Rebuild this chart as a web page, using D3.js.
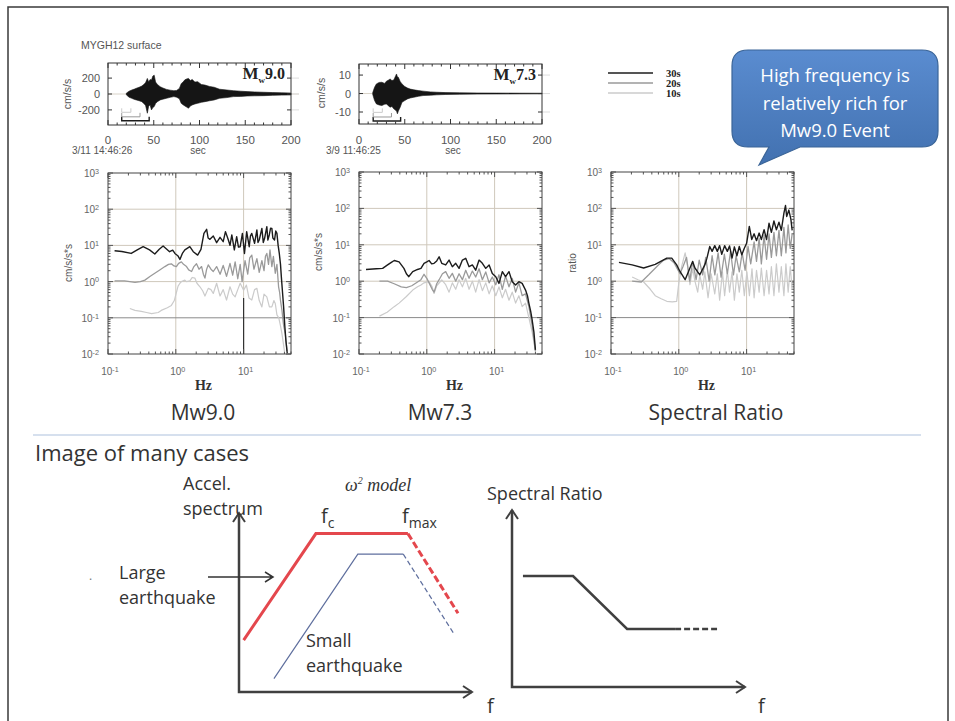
<!DOCTYPE html>
<html>
<head>
<meta charset="utf-8">
<script src="https://cdn.jsdelivr.net/npm/d3@7"></script>
<style>
  body { margin: 0; background: #fff; }
</style>
</head>
<body>
<script>
// ---------- data ----------

const windowNames = ["30s", "20s", "10s"];
const windowColors = ["#1c1c1c", "#9a9a9a", "#cbcbcb"];
const windowLengths = [30, 20, 10];

// Mw9.0 record (MYGH12 surface), envelope of the trace, cm/s/s
const mw90Time  = [20,23,26,29,31,34,37,39,41,43,44.5,46,47.5,49,50.5,52,54,57,60,64,68,72,75,78,80,82,84,86,88,90,92,95,98,102,106,111,116,122,130,137,145,152,160,170,180,190,200];
const mw90Upper = [10,35,50,62,72,85,100,120,140,196,150,183,175,225,237,150,120,92,75,58,48,42,45,70,130,150,178,190,196,170,183,150,155,120,112,95,85,60,50,42,35,30,26,22,18,15,12];
const mw90Lower = [-10,-40,-55,-68,-75,-85,-96,-120,-140,-242,-150,-138,-200,-170,-158,-120,-96,-75,-65,-54,-42,-33,-40,-60,-117,-135,-150,-165,-179,-150,-138,-125,-117,-105,-96,-85,-75,-54,-45,-33,-30,-25,-23,-21,-17,-14,-12];

// Mw7.3 record
const mw73Time  = [15,17,19,22,25,28,30,32,34,36,38,40,41,42,43,45,47,50,53,56,60,65,70,78,85,95,110,130,150,175,200];
const mw73Upper = [0.5,3.4,5.2,6.0,6.1,5.5,6.7,7.2,7.9,7.0,7.4,9.5,10.6,9.0,8.8,6.5,5.2,3.8,3.0,2.4,2.0,1.6,1.3,0.9,0.7,0.5,0.4,0.3,0.25,0.2,0.18];
const mw73Lower = [-0.5,-3.8,-5.6,-6.2,-6.5,-5.8,-5.6,-6.6,-7.4,-7.0,-8.3,-9.0,-9.5,-11,-9.5,-7.4,-4.7,-3.8,-2.9,-2.4,-2.0,-1.5,-1.1,-0.9,-0.7,-0.5,-0.4,-0.3,-0.25,-0.2,-0.18];

// analysis windows drawn under the traces (start s, level in trace units)
const mw90WindowStart = 15;
const mw90WindowLevel = [-337, -287, -230];
const mw73WindowStart = 15.5;
const mw73WindowLevel = [-14.9, -12.7, -10.2];

// Fourier spectra [Hz, cm/s/s*s]
const mw90Spec30 = [[0.125,7.1],[0.16,6.8],[0.22,6.0],[0.27,7.5],[0.33,9.2],[0.41,7.5],[0.49,5.8],[0.57,7.8],[0.65,9.6],[0.81,6.7],[0.9,7.4],[0.97,6.0],[1.07,5.2],[1.15,4.1],[1.25,6.0],[1.36,7.5],[1.61,9.2],[1.81,6.7],[2.1,5.4],[2.35,7.8],[2.6,21.5],[2.85,27.8],[3.0,16],[3.19,14.7],[3.57,18.2],[4.0,11.9],[4.49,16.7],[5.0,12.7],[5.4,24],[5.96,14.1],[6.3,10],[6.7,19.4],[7.3,7.5],[7.9,17.4],[8.4,9],[8.9,9.2],[9.6,21.5],[10.3,6.0],[11.1,24],[12.1,9.2],[12.6,18],[13.2,21.5],[14.5,11.4],[15.7,26.7],[16.3,12],[17,14.1],[18.6,29.6],[19.5,12],[20.4,15.7],[22,33],[22.8,14],[23.9,19.4],[25,30],[26.1,29.6],[27,16],[28.6,14.1],[29.8,25],[31,21.5],[32.3,10],[33.6,6],[35,3],[36,1.37],[37.5,0.5],[38.9,0.2],[40.5,0.06],[42,0.024],[44,0.0105]];
const mw90Spec20 = [[0.125,1.05],[0.175,1.05],[0.21,1.0],[0.25,0.95],[0.3,1.0],[0.35,1.1],[0.42,1.4],[0.49,1.7],[0.58,2.1],[0.69,2.6],[0.78,3.0],[0.86,3.1],[0.94,2.7],[1.02,2.6],[1.1,3.2],[1.21,3.5],[1.3,3.0],[1.44,2.6],[1.55,2.1],[1.71,1.9],[1.85,2.6],[2.02,3.1],[2.2,2.2],[2.4,2.6],[2.55,1.6],[2.69,1.25],[2.85,2.2],[3.01,2.9],[3.3,2.2],[3.57,1.9],[4.0,2.6],[4.5,1.6],[5.0,2.8],[5.6,1.4],[6.3,3.2],[6.9,1.5],[7.5,3.5],[8.2,1.2],[8.9,3.0],[9.5,1.0],[10,2.0],[10.5,3.8],[11.5,1.6],[12.3,4.5],[13.2,5.4],[14.2,2.2],[15.7,4.3],[17,1.8],[18.6,3.8],[20,2.0],[21,5],[22,6.0],[23.3,3.0],[24.5,7.5],[26.1,2.6],[27.5,5.0],[29.3,1.7],[31,3.0],[32.8,0.72],[34,0.5],[35,0.3],[36.8,0.16],[38,0.09],[39,0.06],[41.2,0.036],[43.7,0.012]];
const mw90Spec10 = [[0.21,0.18],[0.25,0.16],[0.31,0.15],[0.37,0.14],[0.44,0.13],[0.55,0.14],[0.61,0.16],[0.75,0.19],[0.86,0.22],[0.95,0.3],[1.02,0.5],[1.08,0.75],[1.15,0.9],[1.21,1.0],[1.36,1.1],[1.44,1.0],[1.61,1.05],[1.75,1.3],[1.91,1.25],[2.05,0.9],[2.27,0.72],[2.5,0.55],[2.69,0.4],[3.01,0.65],[3.3,0.6],[3.57,0.47],[4.0,0.9],[4.49,0.4],[5.0,0.6],[5.6,0.31],[6.3,0.72],[6.9,0.45],[7.5,0.38],[8.2,0.6],[8.9,0.9],[10,0.58],[11,0.8],[12,0.35],[13.2,0.31],[14.5,0.6],[15.7,0.65],[17,0.3],[18.6,0.2],[20,0.45],[22,0.38],[24,0.2],[26.1,0.2],[28,0.3],[29.3,0.25],[31,0.12],[33,0.1],[35,0.06],[36.8,0.036],[40,0.012]];

const mw73Spec30 = [[0.127,2.1],[0.18,2.2],[0.223,2.25],[0.264,2.8],[0.3,3.3],[0.331,3.7],[0.39,3.4],[0.46,2.25],[0.5,1.6],[0.54,1.33],[0.62,1.83],[0.73,2.1],[0.82,2.25],[0.91,3.1],[1.0,3.4],[1.08,3.7],[1.18,3.0],[1.28,3.1],[1.4,3.6],[1.52,4.7],[1.66,3.1],[1.9,2.8],[2.13,3.8],[2.38,2.5],[2.67,3.1],[2.99,2.25],[3.35,3.8],[3.75,4.25],[4.2,2.5],[4.7,2.8],[5.26,2.0],[5.9,3.8],[6.6,3.1],[7.4,2.25],[8.3,2.8],[9.25,1.64],[10.4,1.33],[11.6,0.87],[13,1.83],[14.5,1.33],[16.3,1.83],[18.2,0.97],[20.4,0.79],[22.8,0.97],[25.5,0.87],[28.6,0.57],[30.5,0.4],[32,0.25],[34,0.15],[35.8,0.086],[38,0.04],[40,0.013]];
const mw73Spec20 = [[0.2,1.0],[0.264,1.0],[0.33,0.85],[0.42,0.7],[0.5,0.67],[0.6,0.75],[0.73,0.95],[0.82,1.1],[0.91,1.55],[1.0,1.2],[1.08,0.9],[1.2,0.6],[1.28,0.5],[1.4,0.85],[1.52,1.1],[1.7,1.6],[1.9,1.83],[2.13,1.2],[2.38,1.64],[2.67,1.0],[2.99,1.6],[3.35,1.1],[3.75,2.0],[4.2,1.2],[4.7,1.9],[5.26,1.3],[5.9,2.2],[6.6,1.1],[7.4,1.8],[8.3,0.9],[9.25,1.3],[10.4,0.8],[11.6,1.5],[13,0.6],[14.5,1.4],[16.3,0.7],[18.2,1.2],[20.4,0.5],[22.8,0.9],[25.5,0.4],[28.6,0.45],[32,0.2],[35.8,0.06],[40,0.012]];
const mw73Spec10 = [[0.2,0.11],[0.26,0.14],[0.33,0.2],[0.39,0.25],[0.5,0.38],[0.62,0.57],[0.73,0.7],[0.82,0.79],[0.91,0.9],[1.08,0.97],[1.2,0.7],[1.28,0.46],[1.4,0.75],[1.66,1.08],[1.9,0.8],[2.13,0.5],[2.38,0.9],[2.67,0.6],[2.99,1.1],[3.35,0.7],[3.75,1.2],[4.2,0.6],[4.7,1.0],[5.26,0.5],[5.9,1.1],[6.6,0.55],[7.4,0.9],[8.3,0.45],[9.25,0.75],[10.4,0.4],[11.6,0.7],[13,0.35],[14.5,0.6],[16.3,0.3],[18.2,0.5],[20.4,0.25],[22.8,0.4],[25.5,0.2],[28.6,0.25],[32,0.1],[35.8,0.04],[40,0.012]];

// spectral ratio Mw9.0 / Mw7.3
const ratio30 = [[0.131,3.3],[0.205,2.8],[0.303,2.3],[0.449,2.9],[0.665,4.3],[0.787,4.3],[0.93,2.8],[1.04,1.85],[1.24,1.1],[1.46,2.3],[1.6,3.5],[1.73,2.3],[2.04,1.5],[2.42,2.8],[2.6,4.3],[2.86,9.0],[3.1,6.6],[3.39,9.5],[3.7,6.6],[4.0,9.5],[4.3,5.5],[4.74,9.5],[5.2,6.6],[5.6,9.3],[6.1,4.3],[6.6,8.8],[7.2,5.0],[7.8,9.0],[8.5,5.3],[9.25,8.0],[10.0,11],[10.96,32],[11.9,14],[12.9,20],[14,13],[15.3,21],[16.5,14],[18.1,26],[19.7,14],[21.4,39],[23.2,22],[25.3,45],[27.5,26],[30,42],[32.5,25],[35.5,74],[37.5,120],[39,60],[42,90],[45,50],[47,25]];
const ratio20 = [[0.205,1.0],[0.28,0.95],[0.36,1.5],[0.5,2.8],[0.6,3.8],[0.72,4.2],[0.85,3.2],[1.04,1.6],[1.15,2.5],[1.3,4.5],[1.45,1.0],[1.6,3.5],[1.8,1.1],[2.0,3.8],[2.25,1.5],[2.5,4.5],[2.8,1.0],[3.1,5.0],[3.4,1.5],[3.8,6.0],[4.2,1.3],[4.7,5.5],[5.2,1.6],[5.8,6.6],[6.4,1.5],[7.0,5.0],[7.8,1.8],[8.6,6.0],[9.5,2.0],[10.5,9.0],[11.5,3.0],[12.9,12],[14,3.5],[15.3,15],[16.5,3.0],[18.1,18],[19.7,4.0],[21.4,20],[23.2,4.5],[25.3,22],[27.5,5.0],[30,25],[32.5,5.0],[35.5,30],[38,6.0],[41,35],[44,8.0],[47,20]];
const ratio10 = [[0.205,1.3],[0.25,1.1],[0.303,0.95],[0.38,0.6],[0.449,0.4],[0.55,0.33],[0.665,0.28],[0.8,0.27],[0.93,0.28],[1.0,0.9],[1.1,2.5],[1.24,6.0],[1.35,2.5],[1.46,0.8],[1.6,2.2],[1.73,1.0],[1.9,0.5],[2.04,1.5],[2.25,0.6],[2.42,1.8],[2.7,0.35],[3.0,1.6],[3.39,0.45],[3.7,1.6],[4.0,0.3],[4.4,1.8],[4.74,0.4],[5.2,2.0],[5.6,0.5],[6.1,1.8],[6.6,0.3],[7.2,1.6],[7.8,0.5],[8.5,2.0],[9.25,0.4],[10.1,1.8],[11,0.4],[12,2.2],[12.9,0.35],[14,2.0],[15.3,0.5],[16.5,2.3],[18.1,0.4],[19.7,2.0],[21.4,0.45],[23.2,2.5],[25.3,0.4],[27.5,3.0],[30,0.5],[32.5,2.5],[35.5,0.4],[38,3.0],[41,0.5],[44,2.5],[47,0.6]];

// schematic omega-squared model (arbitrary units 0..10)
const largeSolid  = [[0.2,2.9],[3.3,8.85],[7.25,8.85]];
const largeDashed = [[7.25,8.85],[9.4,4.4]];
const smallSolid  = [[1.5,0.75],[5.1,7.7],[7.05,7.7]];
const smallDashed = [[7.05,7.7],[9.2,3.3]];
const ratioSolid  = [[0.47,6.27],[2.62,6.27],[4.94,3.28],[7.0,3.28]];
const ratioDashed = [[7.0,3.28],[8.8,3.28]];

// ---------- drawing ----------
const sans = "'Liberation Sans', Arial, sans-serif";
const serif = "'Liberation Serif', 'Times New Roman', serif";
const slide = "'Open Sans', sans-serif";

const svg = d3.select("body").append("svg")
  .attr("width", 955).attr("height", 721);
const defs = svg.append("defs");

// slide frame (open at the bottom, like the cropped slide)
svg.append("path").attr("d", "M8,721V7H948V721")
  .attr("fill", "none").attr("stroke", "#3a3a3a").attr("stroke-width", 1.5);

function zip(t, a, b) { return t.map((d, i) => ({t: d, hi: a[i], lo: b[i]})); }

// seismogram panels
function wavePanel(box, rows, yMax, yMin, yTicks, winStart, winLevel, mag) {
  const x = d3.scaleLinear().domain([0, 200]).range([box.x0, box.x1]);
  const y = d3.scaleLinear().domain([yMin, yMax]).range([box.y1, box.y0]);
  const g = svg.append("g");

  g.append("line").attr("x1", box.x0).attr("x2", box.x1 + 8)
    .attr("y1", y(0)).attr("y2", y(0)).attr("stroke", "#d9d3c8");
  yTicks.forEach(v => {
    g.append("line").attr("x1", box.x1).attr("x2", box.x1 + 8)
      .attr("y1", y(v)).attr("y2", y(v)).attr("stroke", "#ddd");
  });

  const area = d3.area().x(d => x(d.t)).y0(d => y(d.lo)).y1(d => y(d.hi));
  g.append("path").datum(rows).attr("d", area)
    .attr("fill", "#151515").attr("stroke", "#151515").attr("stroke-width", 0.6);

  // analysis windows
  windowLengths.forEach((len, i) => {
    const xa = x(winStart), xb = x(winStart + len), yy = y(winLevel[i]);
    g.append("path")
      .attr("d", `M${xa},${yy - 4}V${yy}H${xb}V${yy - 4}`)
      .attr("fill", "none").attr("stroke", windowColors[i]).attr("stroke-width", i === 0 ? 1.4 : 1);
  });

  // ticks
  d3.range(0, 201, 10).forEach(t => {
    const len = t % 50 === 0 ? 5 : 2.5;
    g.append("line").attr("x1", x(t)).attr("x2", x(t)).attr("y1", box.y0).attr("y2", box.y0 + len).attr("stroke", "#333");
    g.append("line").attr("x1", x(t)).attr("x2", x(t)).attr("y1", box.y1).attr("y2", box.y1 - len).attr("stroke", "#333");
  });
  yTicks.forEach(v => {
    g.append("line").attr("x1", box.x0).attr("x2", box.x0 + 4).attr("y1", y(v)).attr("y2", y(v)).attr("stroke", "#333");
    g.append("line").attr("x1", box.x1).attr("x2", box.x1 - 4).attr("y1", y(v)).attr("y2", y(v)).attr("stroke", "#333");
  });

  g.append("rect").attr("x", box.x0).attr("y", box.y0)
    .attr("width", box.x1 - box.x0).attr("height", box.y1 - box.y0)
    .attr("fill", "none").attr("stroke", "#333").attr("stroke-width", 1);

  g.selectAll(".yl").data(yTicks).join("text")
    .attr("x", box.x0 - 8).attr("y", d => y(d) + 4)
    .attr("text-anchor", "end").attr("font-family", sans).attr("font-size", 11).attr("fill", "#555")
    .text(d => d);
  g.selectAll(".xl").data([0, 50, 100, 150, 200]).join("text")
    .attr("x", d => x(d)).attr("y", 144)
    .attr("text-anchor", "middle").attr("font-family", sans).attr("font-size", 11.5).attr("fill", "#555")
    .text(d => d);

  const m = g.append("text").attr("x", box.x1 - 6).attr("y", box.y0 + 16)
    .attr("text-anchor", "end").attr("font-family", serif).attr("font-weight", "bold")
    .attr("font-size", 16).attr("fill", "#222");
  m.append("tspan").attr("font-size", 17).text("M");
  m.append("tspan").attr("dy", 4).attr("font-size", 9).text("w");
  m.append("tspan").attr("dy", -4).text(mag);
  return g;
}

wavePanel({x0: 108, x1: 291, y0: 63, y1: 125}, zip(mw90Time, mw90Upper, mw90Lower),
  390, -390, [200, 0, -200], mw90WindowStart, mw90WindowLevel, "9.0");
wavePanel({x0: 359, x1: 542, y0: 64, y1: 124}, zip(mw73Time, mw73Upper, mw73Lower),
  16, -16.5, [10, 0, -10], mw73WindowStart, mw73WindowLevel, "7.3");

svg.append("text").attr("x", 81).attr("y", 49).attr("font-family", sans).attr("font-size", 10.5)
  .attr("fill", "#555").text("MYGH12 surface");
[[67, 94], [321, 93]].forEach(p => {
  svg.append("text").attr("transform", `translate(${p[0]},${p[1]}) rotate(-90)`)
    .attr("text-anchor", "middle").attr("dy", "0.35em").attr("font-family", sans)
    .attr("font-size", 10.5).attr("fill", "#555").text("cm/s/s");
});
svg.append("text").attr("x", 72).attr("y", 154).attr("font-family", sans).attr("font-size", 10)
  .attr("fill", "#555").text("3/11 14:46:26");
svg.append("text").attr("x", 198).attr("y", 154).attr("text-anchor", "middle").attr("font-family", sans)
  .attr("font-size", 10).attr("fill", "#555").text("sec");
svg.append("text").attr("x", 326).attr("y", 154).attr("font-family", sans).attr("font-size", 10)
  .attr("fill", "#555").text("3/9 11:46:25");
svg.append("text").attr("x", 453).attr("y", 154).attr("text-anchor", "middle").attr("font-family", sans)
  .attr("font-size", 10).attr("fill", "#555").text("sec");

// legend
windowNames.forEach((name, i) => {
  const yy = 73 + i * 10;
  svg.append("line").attr("x1", 608).attr("x2", 653).attr("y1", yy).attr("y2", yy)
    .attr("stroke", windowColors[i]).attr("stroke-width", 1.3);
  svg.append("text").attr("x", 666).attr("y", yy + 3.5).attr("font-family", serif)
    .attr("font-weight", "bold").attr("font-size", 10.5).attr("fill", "#222").text(name);
});

// spectra panels
function powLabel(sel, e) {
  sel.append("tspan").text("10");
  sel.append("tspan").attr("dy", "-0.45em").attr("font-size", "0.72em").text(e);
}

function specPanel(box, curves, yLabel, yLabelPos, marker) {
  const x = d3.scaleLog().domain([0.1, 50]).range([box.x0, box.x1]);
  const y = d3.scaleLog().domain([0.01, 1000]).range([box.y1, box.y0]);
  const g = svg.append("g");
  const isMajor = v => Math.abs(Math.log10(v) - Math.round(Math.log10(v))) < 1e-6;

  g.selectAll(".gx").data([1, 10]).join("line")
    .attr("x1", d => x(d)).attr("x2", d => x(d)).attr("y1", box.y0).attr("y2", box.y1)
    .attr("stroke", "#cfc8bb");
  g.selectAll(".gy").data([100, 10, 1, 0.1]).join("line")
    .attr("x1", box.x0).attr("x2", box.x1).attr("y1", d => y(d)).attr("y2", d => y(d))
    .attr("stroke", d => d === 0.1 ? "#8a8a8a" : "#cfc8bb");

  if (marker) {
    g.append("line").attr("x1", x(marker.f)).attr("x2", x(marker.f))
      .attr("y1", y(marker.top)).attr("y2", box.y1).attr("stroke", "#333").attr("stroke-width", 1.2);
  }

  x.ticks().forEach(v => {
    const len = isMajor(v) ? 5 : 2.5;
    g.append("line").attr("x1", x(v)).attr("x2", x(v)).attr("y1", box.y1).attr("y2", box.y1 - len).attr("stroke", "#555");
    g.append("line").attr("x1", x(v)).attr("x2", x(v)).attr("y1", box.y0).attr("y2", box.y0 + len).attr("stroke", "#555");
  });
  y.ticks().forEach(v => {
    const len = isMajor(v) ? 5 : 2.5;
    g.append("line").attr("x1", box.x0).attr("x2", box.x0 + len).attr("y1", y(v)).attr("y2", y(v)).attr("stroke", "#555");
    g.append("line").attr("x1", box.x1).attr("x2", box.x1 - len).attr("y1", y(v)).attr("y2", y(v)).attr("stroke", "#555");
  });

  const id = "clip" + box.x0;
  defs.append("clipPath").attr("id", id).append("rect")
    .attr("x", box.x0).attr("y", box.y0).attr("width", box.x1 - box.x0).attr("height", box.y1 - box.y0);

  const line = d3.line().x(d => x(d[0])).y(d => y(d[1]));
  g.append("g").attr("clip-path", `url(#${id})`)
    .selectAll("path").data(curves).join("path")
    .attr("d", d => line(d.values))
    .attr("fill", "none").attr("stroke", d => d.color)
    .attr("stroke-width", d => d.width).attr("stroke-linejoin", "round");

  g.append("rect").attr("x", box.x0).attr("y", box.y0)
    .attr("width", box.x1 - box.x0).attr("height", box.y1 - box.y0)
    .attr("fill", "none").attr("stroke", "#444").attr("stroke-width", 1);

  [-2, -1, 0, 1, 2, 3].forEach(e => {
    const t = g.append("text").attr("x", box.x0 - 9).attr("y", y(Math.pow(10, e)) + 4)
      .attr("text-anchor", "end").attr("font-family", sans).attr("font-size", 10).attr("fill", "#666");
    powLabel(t, e);
  });
  [-1, 0, 1].forEach(e => {
    const t = g.append("text").attr("x", x(Math.pow(10, e)) + 2).attr("y", box.y1 + 21)
      .attr("text-anchor", "middle").attr("font-family", sans).attr("font-size", 10).attr("fill", "#666");
    powLabel(t, e);
  });
  g.append("text").attr("x", (box.x0 + box.x1) / 2 + 4).attr("y", 390)
    .attr("text-anchor", "middle").attr("font-family", serif).attr("font-weight", "bold")
    .attr("font-size", 14).attr("fill", "#333").text("Hz");
  g.append("text").attr("transform", `translate(${yLabelPos[0]},${yLabelPos[1]}) rotate(-90)`)
    .attr("text-anchor", "middle").attr("dy", "0.35em").attr("font-family", sans)
    .attr("font-size", 10).attr("fill", "#555").text(yLabel);
}

function curveSet(s30, s20, s10) {
  return [
    {values: s10, color: windowColors[2], width: 1.2},
    {values: s20, color: windowColors[1], width: 1.3},
    {values: s30, color: windowColors[0], width: 1.4}
  ];
}

specPanel({x0: 108, x1: 291, y0: 173, y1: 354}, curveSet(mw90Spec30, mw90Spec20, mw90Spec10),
  "cm/s/s*s", [68, 263], {f: 10, top: 0.35});
specPanel({x0: 359, x1: 542, y0: 172, y1: 354}, curveSet(mw73Spec30, mw73Spec20, mw73Spec10),
  "cm/s/s*s", [318, 252]);
specPanel({x0: 611, x1: 794, y0: 172, y1: 354}, curveSet(ratio30, ratio20, ratio10),
  "ratio", [572, 263]);

// panel captions
[["Mw9.0", 203], ["Mw7.3", 440], ["Spectral Ratio", 716]].forEach(c => {
  svg.append("text").attr("x", c[1]).attr("y", 420).attr("text-anchor", "middle")
    .attr("font-family", slide).attr("font-size", 21).attr("fill", "#333").text(c[0]);
});

// callout
const grad = defs.append("linearGradient").attr("id", "bubble").attr("x1", 0).attr("y1", 0).attr("x2", 0).attr("y2", 1);
grad.append("stop").attr("offset", "0%").attr("stop-color", "#5a8cd0");
grad.append("stop").attr("offset", "100%").attr("stop-color", "#4271b0");
svg.append("path")
  .attr("d", "M748,50H922Q938,50 938,66V131Q938,147 922,147H800L759,165L769,147H748Q732,147 732,131V66Q732,50 748,50Z")
  .attr("fill", "url(#bubble)").attr("stroke", "#3b6598").attr("stroke-width", 1.2);
["High frequency is", "relatively rich for", "Mw9.0 Event"].forEach((s, i) => {
  svg.append("text").attr("x", 835).attr("y", 82 + i * 27.5).attr("text-anchor", "middle")
    .attr("font-family", slide).attr("font-size", 18.5).attr("fill", "#fff").text(s);
});

// separator and lower title
svg.append("line").attr("x1", 33).attr("x2", 921).attr("y1", 435).attr("y2", 435)
  .attr("stroke", "#aec2de").attr("stroke-width", 1.2);
svg.append("text").attr("x", 35).attr("y", 461).attr("font-family", slide).attr("font-size", 22)
  .attr("fill", "#333").text("Image of many cases");

// schematic diagrams
function arrowAxes(sx, sy) {
  const ox = sx(0), oy = sy(0), tx = sx(10), ty = sy(10);
  const g = svg.append("g").attr("fill", "none").attr("stroke", "#404040").attr("stroke-width", 2.5)
    .attr("stroke-linejoin", "miter");
  g.append("path").attr("d", `M${ox},${ty}V${oy}H${tx}`);
  g.append("path").attr("d", `M${ox - 6},${ty + 9}L${ox},${ty}L${ox + 6},${ty + 9}`).attr("stroke-width", 2);
  g.append("path").attr("d", `M${tx - 9},${oy - 6}L${tx},${oy}L${tx - 9},${oy + 6}`).attr("stroke-width", 2);
}

const ax = d3.scaleLinear().domain([0, 10]).range([239, 472]);
const ay = d3.scaleLinear().domain([0, 10]).range([692, 513]);
const aLine = d3.line().x(d => ax(d[0])).y(d => ay(d[1]));
arrowAxes(ax, ay);
svg.append("path").attr("d", aLine(largeSolid)).attr("fill", "none").attr("stroke", "#e4474d").attr("stroke-width", 3);
svg.append("path").attr("d", aLine(largeDashed)).attr("fill", "none").attr("stroke", "#e4474d")
  .attr("stroke-width", 3).attr("stroke-dasharray", "7,3");
svg.append("path").attr("d", aLine(smallSolid)).attr("fill", "none").attr("stroke", "#5f6f9e").attr("stroke-width", 1.2);
svg.append("path").attr("d", aLine(smallDashed)).attr("fill", "none").attr("stroke", "#5f6f9e")
  .attr("stroke-width", 1.2).attr("stroke-dasharray", "5,3");

const rx = d3.scaleLinear().domain([0, 10]).range([512, 745]);
const ry = d3.scaleLinear().domain([0, 10]).range([687, 510]);
const rLine = d3.line().x(d => rx(d[0])).y(d => ry(d[1]));
arrowAxes(rx, ry);
svg.append("path").attr("d", rLine(ratioSolid)).attr("fill", "none").attr("stroke", "#404040").attr("stroke-width", 2.5);
svg.append("path").attr("d", rLine(ratioDashed)).attr("fill", "none").attr("stroke", "#404040")
  .attr("stroke-width", 2.5).attr("stroke-dasharray", "6,3");

// pointer to the large-event curve
svg.append("path").attr("d", "M208,577H273M265,572L273,577L265,582")
  .attr("fill", "none").attr("stroke", "#333").attr("stroke-width", 1.5);

function label(x, y, s, size) {
  return svg.append("text").attr("x", x).attr("y", y).attr("font-family", slide)
    .attr("font-size", size || 18).attr("fill", "#333").text(s);
}
label(183, 490, "Accel.");
label(183, 515, "spectrum");
label(119, 579, "Large");
label(119, 604, "earthquake");
label(306, 647, "Small");
label(306, 672, "earthquake");
label(487, 500, "Spectral Ratio");
label(487, 713, "f", 20);
label(758, 713, "f", 20);
svg.append("text").attr("x", 89).attr("y", 580).attr("font-family", slide).attr("font-size", 12)
  .attr("fill", "#777").text(".");

const fc = label(321, 523, "f", 20);
fc.append("tspan").attr("dy", 5).attr("font-size", 14).text("c");
const fm = label(402, 523, "f", 20);
fm.append("tspan").attr("dy", 5).attr("font-size", 14).text("max");

const om = svg.append("text").attr("x", 345).attr("y", 491).attr("font-family", serif)
  .attr("font-style", "italic").attr("font-size", 18).attr("fill", "#333");
om.append("tspan").text("ω");
om.append("tspan").attr("dy", -7).attr("font-size", 10).text("2");
om.append("tspan").attr("dy", 7).text(" model");
</script>
</body>
</html>
